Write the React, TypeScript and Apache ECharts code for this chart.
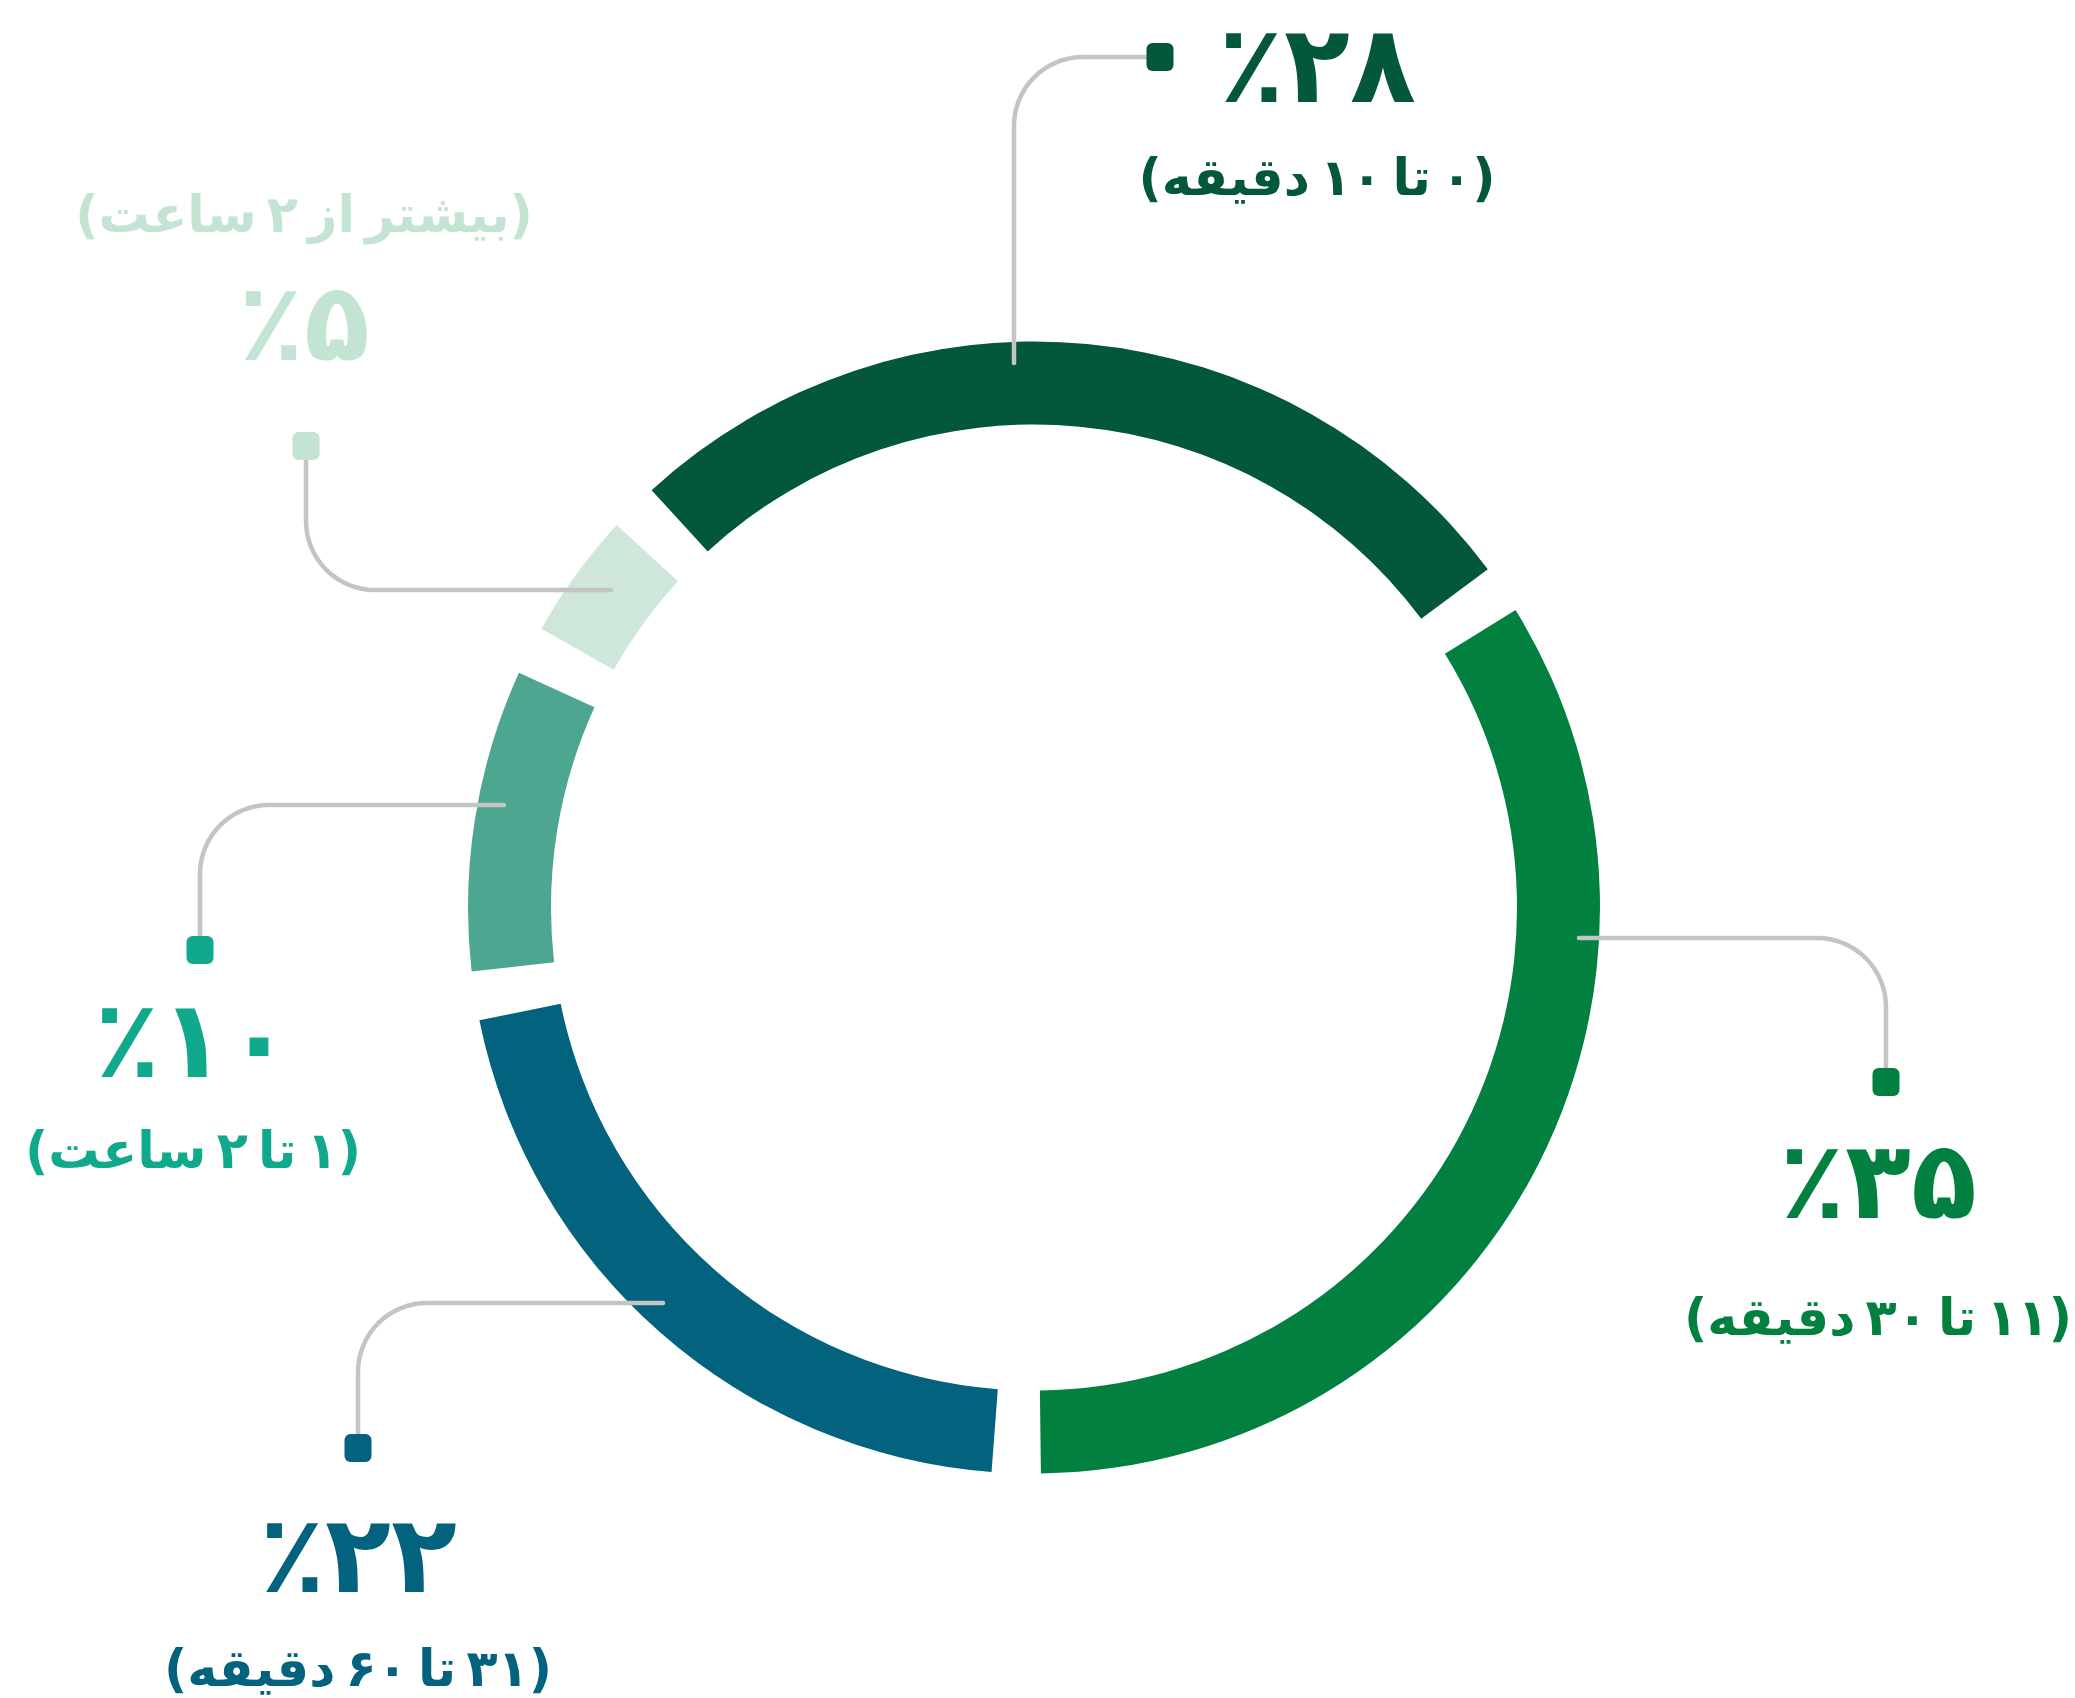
import React, { useEffect, useRef } from "react";
import * as echarts from "echarts";

// ---- data ----
const categories = ["۰ تا ۱۰ دقیقه", "۱۱ تا ۳۰ دقیقه", "۳۱ تا ۶۰ دقیقه", "۱ تا ۲ ساعت", "بیشتر از ۲ ساعت"];
const values = [28, 35, 22, 10, 5];
const percentLabels = ["٪۲۸", "٪۳۵", "٪۲۲", "٪۱۰", "٪۵"];
const sliceColors = ["#03573A", "#028040", "#03627E", "#4DA68F", "#CFE6DA"];
const labelColors = ["#03573A", "#028040", "#03627E", "#10A98B", "#C3E3D3"];

// ---- layout ----
const FONT = "'DejaVu Sans', 'Noto Sans', sans-serif";
const CENTER: [number, number] = [1034, 907.5];
const RADIUS: [number, number] = [483, 566];
const CORNER_R = 69;
type Leader = {
  anchor: [number, number];
  elbow: [number, number];
  marker: [number, number];
  textX: number;
  textTop: number;
  lp: number;
  ls: number;
  subFirst: boolean;
};
const LEADERS: Leader[] = [
  { anchor: [1014, 363], elbow: [1014, 57], marker: [1160, 57], textX: 1317, textTop: 4, lp: 120, ls: 106, subFirst: false },
  { anchor: [1579, 938], elbow: [1886, 938], marker: [1886, 1082], textX: 1878, textTop: 1093, lp: 174, ls: 100, subFirst: false },
  { anchor: [663, 1303], elbow: [358, 1303], marker: [358, 1448], textX: 358, textTop: 1490, lp: 128, ls: 100, subFirst: false },
  { anchor: [504, 805], elbow: [200, 805], marker: [200, 950], textX: 193, textTop: 978, lp: 122, ls: 100, subFirst: false },
  { anchor: [611, 590], elbow: [306, 590], marker: [306, 446], textX: 304, textTop: 164, lp: 116, ls: 100, subFirst: true },
];

function leaderPoints(L: Leader): number[][] {
  const [x0, y0] = L.anchor;
  const [x1, y1] = L.elbow;
  const [x2, y2] = L.marker;
  const l1 = Math.hypot(x1 - x0, y1 - y0);
  const l2 = Math.hypot(x2 - x1, y2 - y1);
  const d1 = [(x1 - x0) / l1, (y1 - y0) / l1];
  const d2 = [(x2 - x1) / l2, (y2 - y1) / l2];
  const R = CORNER_R;
  const c = [x1 - d1[0] * R + d2[0] * R, y1 - d1[1] * R + d2[1] * R];
  const pts: number[][] = [[x0, y0]];
  const N = 16;
  for (let k = 0; k <= N; k++) {
    const t = (k / N) * (Math.PI / 2);
    pts.push([
      c[0] - d2[0] * R * Math.cos(t) + d1[0] * R * Math.sin(t),
      c[1] - d2[1] * R * Math.cos(t) + d1[1] * R * Math.sin(t),
    ]);
  }
  pts.push([x2, y2]);
  return pts;
}

const RLE = "\u202B";
const PDF = "\u202C";
const THIN = "\u2009";

export default function App() {
  const ref = useRef<HTMLDivElement>(null);
  useEffect(() => {
    if (!ref.current) return;
    const chart = echarts.init(ref.current, undefined, { renderer: "svg" });
    const rich: Record<string, any> = {};
    values.forEach((_, i) => {
      rich["p" + i] = {
        fontFamily: FONT,
        fontWeight: "bold",
        fontSize: 108,
        color: labelColors[i],
        lineHeight: LEADERS[i].lp,
        align: "center",
      };
      rich["s" + i] = {
        fontFamily: FONT,
        fontWeight: "bold",
        fontSize: 51,
        color: labelColors[i],
        lineHeight: LEADERS[i].ls,
        align: "center",
      };
    });
    const common = {
      type: "pie",
      center: CENTER,
      radius: RADIUS,
      startAngle: 135,
      clockwise: true,
      padAngle: 5,
      avoidLabelOverlap: false,
      emphasis: { disabled: true },
    };
    chart.setOption({
      animation: false,
      backgroundColor: "#ffffff",
      series: [
        {
          ...common,
          name: "ring",
          z: 1,
          silent: true,
          label: { show: false },
          labelLine: { show: false },
          data: values.map((v, i) => ({
            value: v,
            name: categories[i],
            itemStyle: { color: sliceColors[i] },
          })),
        },
        {
          ...common,
          name: "labels",
          z: 4,
          silent: true,
          label: {
            show: true,
            position: "outside",
            fontFamily: FONT,
            formatter: (p: any) => {
              const i = p.dataIndex;
              const pct = `{p${i}|${percentLabels[i]}}`;
              const subText = categories[i].split(" ").join(THIN);
              const sub = `{s${i}|${RLE}(${subText})${PDF}}`;
              return LEADERS[i].subFirst ? `${sub}\n${pct}` : `${pct}\n${sub}`;
            },
            rich,
          },
          labelLine: {
            show: true,
            showAbove: true,
            length: 10,
            length2: 10,
            smooth: false,
            lineStyle: { color: "#C4C4C4", width: 4.5, cap: "round", join: "round" },
          },
          labelLayout: (params: any) => {
            const L = LEADERS[params.dataIndex];
            return {
              x: L.textX,
              y: L.textTop,
              align: "center",
              verticalAlign: "top",
              labelLinePoints: leaderPoints(L),
            };
          },
          data: values.map((v, i) => ({
            value: v,
            name: categories[i],
            itemStyle: { color: "rgba(0,0,0,0)" },
          })),
        },
      ],
      graphic: LEADERS.map((L, i) => ({
        type: "rect",
        z: 100,
        shape: { x: L.marker[0] - 13.5, y: L.marker[1] - 14, width: 27, height: 28, r: 6 },
        style: { fill: labelColors[i] },
      })),
    });
    return () => chart.dispose();
  }, []);
  return (
    <div
      ref={ref}
      style={{ position: "fixed", left: 0, top: 0, width: 2075, height: 1698, background: "#fff" }}
    />
  );
}
